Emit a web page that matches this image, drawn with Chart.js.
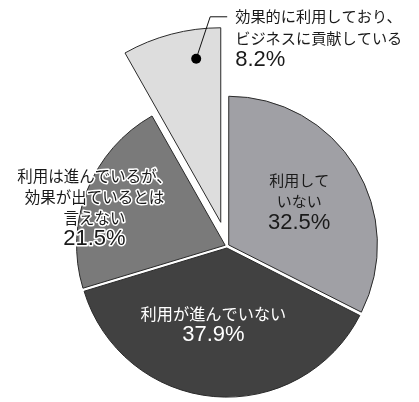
<!DOCTYPE html>
<html lang="ja">
<head>
<meta charset="utf-8">
<script src="https://cdn.jsdelivr.net/npm/chart.js@4.4.0/dist/chart.umd.min.js"></script>
<style>
  html, body { margin: 0; padding: 0; background: #fff; }
  #wrap { width: 419px; height: 402px; }
</style>
</head>
<body>
<div id="wrap"><canvas id="pieChart" width="419" height="402"></canvas></div>
<script>
// category names, split into the lines they are printed on
const categories = [
  ['利用して', 'いない'],
  ['利用が進んでいない'],
  ['利用は進んでいるが、', '効果が出ているとは', '言えない'],
  ['効果的に利用しており、', 'ビジネスに貢献している']
];
const shares = [32.5, 37.9, 21.5, 8.2];

const sliceColors = ['#a0a0a5', '#414141', '#7a7a7a', '#dddddd'];
const NUM_FONT = '22px "Liberation Sans", "Noto Sans CJK JP"';

// inner labels: distance as share of radius, angle nudge in degrees
const labelStyle = [
  { dist: 0.57,  turn: 0,    size: 15,   color: '#1a1a1a', halo: null },
  { dist: 0.535, turn: 4.8,  size: 16.2, color: '#ffffff', halo: null },
  { dist: 0.93,  turn: -5.5, size: 15.5, color: '#1a1a1a', halo: '#ffffff' }
];

// pull the last slice out and make it bigger
const explodePlugin = {
  id: 'explode',
  afterDatasetsUpdate(chart) {
    const arc = chart.getDatasetMeta(0).data[3];
    const r = arc.outerRadius;
    const mid = (arc.startAngle + arc.endAngle) / 2;
    arc.x += Math.cos(mid) * r * 0.165;
    arc.y += Math.sin(mid) * r * 0.165;
    arc.outerRadius = r * 1.31;
  }
};

function drawLines(ctx, lines, x, y, step, size, color, halo) {
  lines.forEach((ln, i) => {
    ctx.font = ln.isNum ? NUM_FONT : size + 'px "Noto Sans CJK JP"';
    const yy = y + i * step;
    if (halo) {
      ctx.strokeStyle = halo;
      ctx.lineWidth = 3;
      ctx.lineJoin = 'round';
      ctx.strokeText(ln.text, x, yy);
    }
    ctx.fillStyle = color;
    ctx.fillText(ln.text, x, yy);
  });
}

const labelPlugin = {
  id: 'sliceLabels',
  afterDraw(chart) {
    const ctx = chart.ctx;
    const arcs = chart.getDatasetMeta(0).data;
    const vals = chart.data.datasets[0].data;
    const step = 21;
    ctx.save();
    ctx.textBaseline = 'middle';

    labelStyle.forEach((st, i) => {
      const arc = arcs[i];
      const a = (arc.startAngle + arc.endAngle) / 2 + st.turn * Math.PI / 180;
      const cx = arc.x + Math.cos(a) * arc.outerRadius * st.dist;
      const cy = arc.y + Math.sin(a) * arc.outerRadius * st.dist;
      const lines = categories[i].map(t => ({ text: t, isNum: false }));
      lines.push({ text: vals[i].toFixed(1) + '%', isNum: true });
      const top = cy - (lines.length - 1) * step / 2;
      ctx.textAlign = 'center';
      drawLines(ctx, lines, cx, top, step, st.size, st.color, st.halo);
    });

    // callout for the exploded slice
    const arc = arcs[3];
    const a = (arc.startAngle + arc.endAngle) / 2 + 6.2 * Math.PI / 180;
    const dx = arc.x + Math.cos(a) * arc.outerRadius * 0.85;
    const dy = arc.y + Math.sin(a) * arc.outerRadius * 0.85;
    const ex = dx + 14, ey = dy - 42;
    ctx.strokeStyle = '#111';
    ctx.lineWidth = 1;
    ctx.beginPath();
    ctx.moveTo(dx, dy);
    ctx.lineTo(ex, ey);
    ctx.lineTo(ex + 17, ey);
    ctx.stroke();
    ctx.fillStyle = '#000';
    ctx.beginPath();
    ctx.arc(dx, dy, 5, 0, Math.PI * 2);
    ctx.fill();

    const lines = categories[3].map(t => ({ text: t, isNum: false }));
    lines.push({ text: vals[3].toFixed(1) + '%', isNum: true });
    ctx.textAlign = 'left';
    drawLines(ctx, lines, ex + 25, ey - 1, 22, 15.2, '#1a1a1a', null);
    ctx.restore();
  }
};

new Chart(document.getElementById('pieChart').getContext('2d'), {
  type: 'pie',
  data: {
    labels: categories.map(c => c.join('')),
    datasets: [{
      data: shares,
      backgroundColor: sliceColors,
      borderColor: '#2a2a2a',
      borderWidth: 1,
      offset: [8, 8, 8, 0]
    }]
  },
  options: {
    responsive: false,
    animation: false,
    events: [],
    layout: { padding: { left: 74, top: 93, right: 39, bottom: 3 } },
    plugins: {
      legend: { display: false },
      tooltip: { enabled: false }
    }
  },
  plugins: [explodePlugin, labelPlugin]
});
</script>
</body>
</html>
